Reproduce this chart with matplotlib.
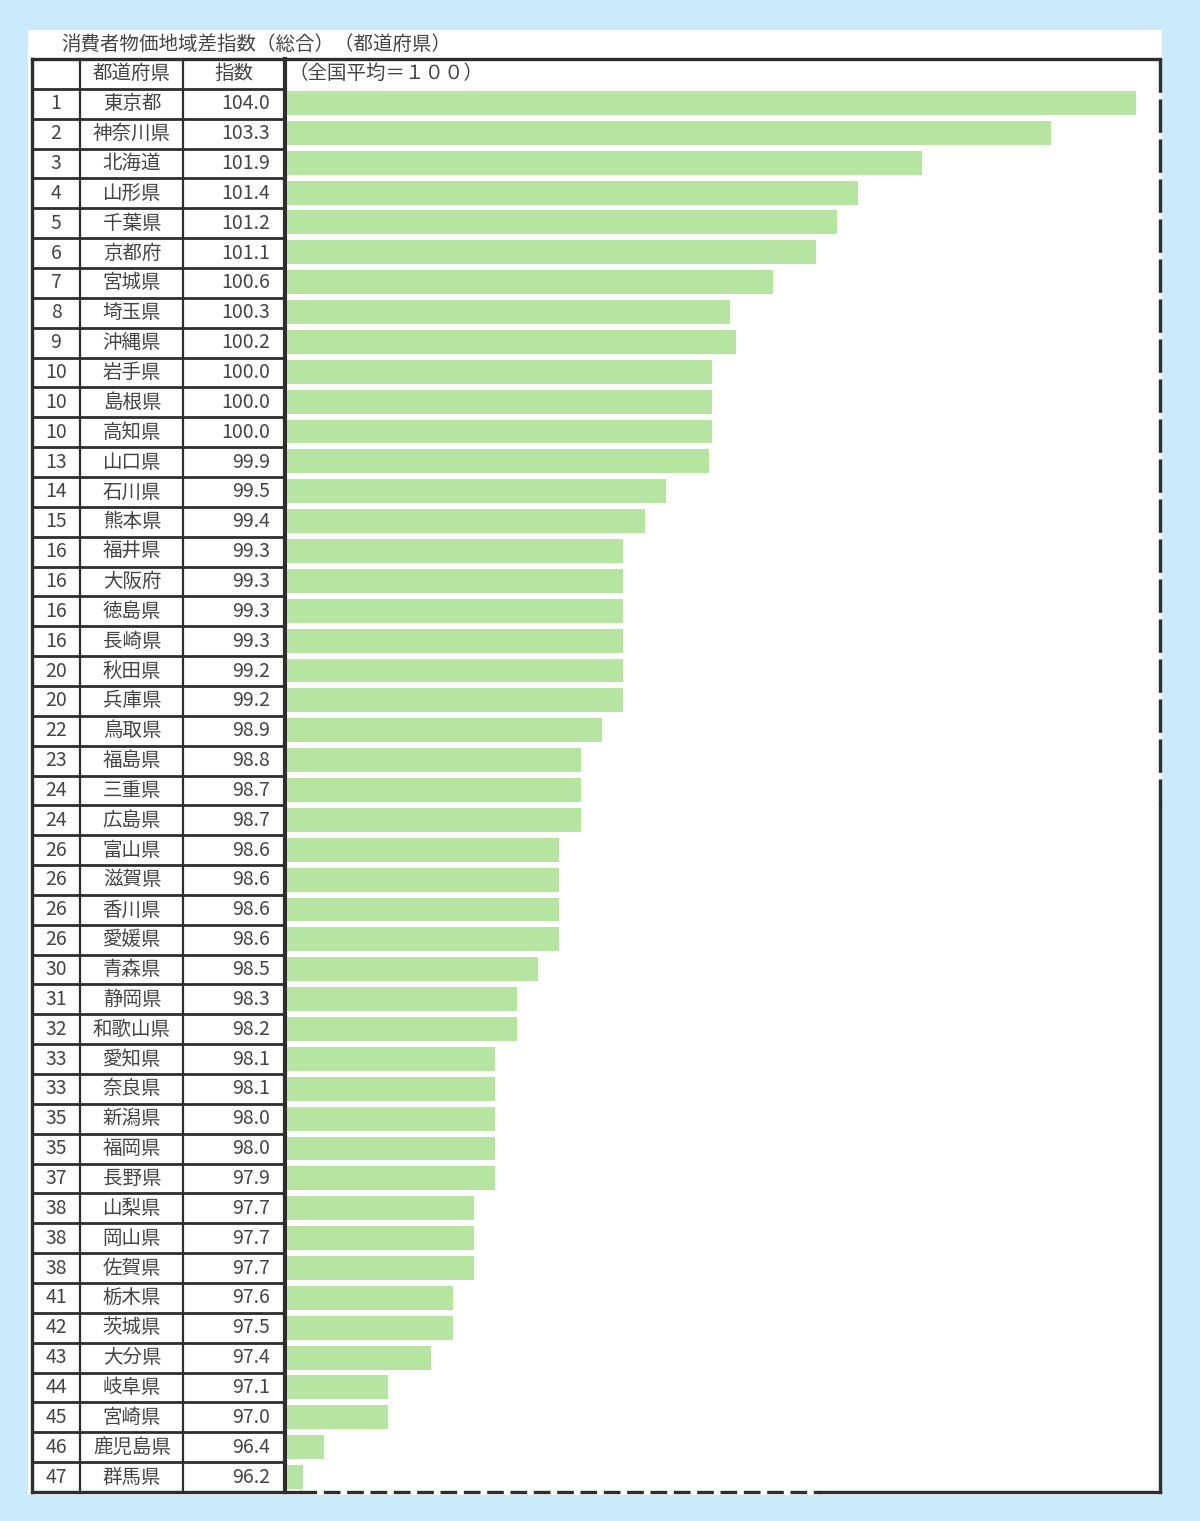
import matplotlib
matplotlib.use("Agg")
import matplotlib.pyplot as plt
from matplotlib.patches import Rectangle

plt.rcParams['font.family'] = ['Noto Sans CJK JP', 'DejaVu Sans']

# data
ranks = [1, 2, 3, 4, 5, 6, 7, 8, 9, 10, 10, 10, 13, 14, 15, 16, 16, 16, 16, 20, 20, 22, 23, 24,
         24, 26, 26, 26, 26, 30, 31, 32, 33, 33, 35, 35, 37, 38, 38, 38, 41, 42, 43, 44, 45, 46, 47]
prefs = ["東京都", "神奈川県", "北海道", "山形県", "千葉県", "京都府", "宮城県", "埼玉県", "沖縄県",
         "岩手県", "島根県", "高知県", "山口県", "石川県", "熊本県", "福井県", "大阪府", "徳島県",
         "長崎県", "秋田県", "兵庫県", "鳥取県", "福島県", "三重県", "広島県", "富山県", "滋賀県",
         "香川県", "愛媛県", "青森県", "静岡県", "和歌山県", "愛知県", "奈良県", "新潟県", "福岡県",
         "長野県", "山梨県", "岡山県", "佐賀県", "栃木県", "茨城県", "大分県", "岐阜県", "宮崎県",
         "鹿児島県", "群馬県"]
index_labels = ["104.0", "103.3", "101.9", "101.4", "101.2", "101.1", "100.6", "100.3", "100.2",
                "100.0", "100.0", "100.0", "99.9", "99.5", "99.4", "99.3", "99.3", "99.3", "99.3",
                "99.2", "99.2", "98.9", "98.8", "98.7", "98.7", "98.6", "98.6", "98.6", "98.6",
                "98.5", "98.3", "98.2", "98.1", "98.1", "98.0", "98.0", "97.9", "97.7", "97.7",
                "97.7", "97.6", "97.5", "97.4", "97.1", "97.0", "96.4", "96.2"]
# bar lengths as drawn in the picture (they do not always follow the printed index)
bar_values = [104.0, 103.2, 102.0, 101.4, 101.2, 101.0, 100.6, 100.2, 100.25, 100.03, 100.03, 100.03,
              100.0, 99.6, 99.4, 99.2, 99.2, 99.2, 99.2, 99.2, 99.2, 99.0, 98.8, 98.8, 98.8,
              98.6, 98.6, 98.6, 98.6, 98.4, 98.2, 98.2, 98.0, 98.0, 98.0, 98.0, 98.0,
              97.8, 97.8, 97.8, 97.6, 97.6, 97.4, 97.0, 97.0, 96.4, 96.2]
base = 96.05

title = "消費者物価地域差指数（総合）（都道府県）"
head_pref = "都道府県"
head_idx = "指数"
head_note = "（全国平均＝１００）"

W, H = 1200, 1521
bg = "#c9ebfb"
green = "#b5e5a0"
txt = "#444444"
line = "#2e2e2e"

fig = plt.figure(figsize=(W / 100, H / 100), dpi=100, facecolor=bg)


def box(x0, y0, x1, y1):
    return [x0 / W, 1 - y1 / H, (x1 - x0) / W, (y1 - y0) / H]


# frame axes in pixel space for the panel and borders
fr = fig.add_axes([0, 0, 1, 1])
fr.set_xlim(0, W)
fr.set_ylim(H, 0)
fr.axis("off")
fr.add_patch(Rectangle((28, 30), 1134, 1465, facecolor="white", edgecolor="none"))
fr.text(61, 44, title, fontsize=14, color=txt, va="center", ha="left")

n = len(prefs)
# table part
tb = fig.add_axes(box(32, 59, 285, 1492))
tb.set_xlim(32, 285)
tb.set_ylim(n - 0.5, -1.5)
tb.axis("off")
col_c = [56, 132]
x_idx = 270
fs = 14
tb.text(col_c[1], -1, head_pref, ha="center", va="center", fontsize=fs, color=txt)
tb.text(234, -1, head_idx, ha="center", va="center", fontsize=fs, color=txt)
for i in range(n):
    tb.text(col_c[0], i, str(ranks[i]), ha="center", va="center", fontsize=fs, color=txt)
    tb.text(col_c[1], i, prefs[i], ha="center", va="center", fontsize=fs, color=txt)
    tb.text(x_idx, i, index_labels[i], ha="right", va="center", fontsize=fs, color=txt)
for i in range(n):
    tb.plot([32, 285], [i - 0.5, i - 0.5], color=line, lw=2.0, solid_capstyle="butt")
for x in (80, 183):
    tb.plot([x, x], [-1.5, n - 0.5], color=line, lw=1.6)

# bars
bx = fig.add_axes(box(285, 88, 1160, 1492))
bx.patch.set_alpha(0)
scale = 106.8
bx.set_xlim(base - 2 / scale, base + (1160 - 287) / scale)
bx.set_ylim(n - 0.5, -0.5)
bx.axis("off")
bx.barh(range(n), [v - base for v in bar_values], left=base, height=0.8, color=green)

fr.text(288, 73, head_note, fontsize=fs, color=txt, va="center", ha="left")

# borders
kw = dict(color=line, lw=2.4)
fr.plot([32, 1160], [59, 59], **kw)
fr.plot([32, 32], [59, 1492], **kw)
fr.plot([285, 285], [59, 1492], color=line, lw=3)
fr.plot([32, 300], [1492, 1492], **kw)
fr.plot([300, 820], [1492, 1492], dashes=(5, 2), **kw)
fr.plot([820, 1160], [1492, 1492], **kw)
fr.plot([1160, 1160], [59, 805], dashes=(10, 2), **kw)
fr.plot([1160, 1160], [805, 1492], **kw)

fig.savefig("out.png", dpi=100, facecolor=bg)
